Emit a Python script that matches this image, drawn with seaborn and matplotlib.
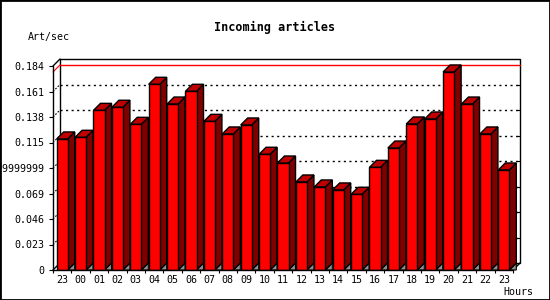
import numpy as np
import pandas as pd
import matplotlib
matplotlib.use("Agg")
import matplotlib.pyplot as plt
import seaborn as sns
from matplotlib.patches import Polygon, Rectangle

# ---- data ----
hours = ["23", "00", "01", "02", "03", "04", "05", "06", "07", "08", "09", "10",
         "11", "12", "13", "14", "15", "16", "17", "18", "19", "20", "21", "22", "23"]
rate = [0.1182, 0.1197, 0.1440, 0.1468, 0.1314, 0.1675, 0.1497, 0.1612, 0.1341,
        0.1227, 0.1308, 0.1044, 0.0965, 0.0794, 0.0749, 0.0722, 0.0683, 0.0926,
        0.1100, 0.1317, 0.1362, 0.1786, 0.1497, 0.1227, 0.0902]
yticks = [0, 0.023, 0.046, 0.069, 0.09199999999, 0.115, 0.138, 0.161, 0.184]
ytick_labels = ["0", "0.023", "0.046", "0.069", "0.09199999999",
                "0.115", "0.138", "0.161", "0.184"]

sns.set_theme(style="white")
plt.rcParams["font.family"] = ["DejaVu Sans Mono"]

W, H = 550, 300
fig = plt.figure(figsize=(W / 100, H / 100), dpi=100)
fig.patch.set_facecolor("white")
ax = fig.add_axes([53 / W, 30 / H, 460 / W, 204 / H])
ax.set_facecolor("none")

df = pd.DataFrame({"slot": list(range(len(rate))), "rate": rate})
sns.barplot(data=df, x="slot", y="rate", color="#FF0000", saturation=1,
            width=0.6, edgecolor="black", linewidth=1.0, ax=ax, zorder=3)

n = len(rate)
ymax = yticks[-1]
ax.set_xlim(-0.5, n - 0.5)
ax.set_ylim(0, ymax)

# depth offsets (7 px) expressed in data units
depth_px = 7
dx = depth_px * n / 460.0
dy = depth_px * ymax / 204.0

# back plane
ax.add_patch(Rectangle((-0.5 + dx, dy), n, ymax, facecolor="white",
                       edgecolor="black", lw=1.0, zorder=0.5, clip_on=False))
# dotted grid on back plane
for t in yticks[1:-1]:
    ax.plot([-0.5 + dx, n - 0.5 + dx], [t + dy, t + dy], color="black", lw=1.0,
            ls=(0, (1.5, 2.5)), zorder=1, clip_on=False)
    ax.plot([-0.5, -0.5 + dx], [t, t + dy], color="black", lw=0.8,
            ls=(0, (1.5, 1.5)), zorder=1, clip_on=False)
    # small inward ticks on back right edge
    ax.plot([n - 0.5 + dx - 0.15, n - 0.5 + dx], [t + dy, t + dy], color="black",
            lw=0.8, zorder=1, clip_on=False)

# red max line
mx = max(rate)
ax.plot([-0.5 + dx, n - 0.5 + dx], [mx + dy, mx + dy], color="#FF0000", lw=1.0,
        zorder=1.2, clip_on=False)
ax.plot([-0.5, -0.5 + dx], [mx, mx + dy], color="#FF0000", lw=0.8,
        zorder=1.2, clip_on=False)

# corner diagonals
for (xx, yy) in [(-0.5, ymax), (-0.5, 0), (n - 0.5, 0)]:
    ax.plot([xx, xx + dx], [yy, yy + dy], color="black", lw=1.0, zorder=1.5,
            clip_on=False)

# 3D faces of bars
for p in list(ax.patches):
    if not isinstance(p, Rectangle) or p.get_height() <= 0 or p.get_width() >= n:
        continue
    x0 = p.get_x()
    x1 = x0 + p.get_width()
    h = p.get_height()
    ax.add_patch(Polygon([(x1, 0), (x1 + dx, dy), (x1 + dx, 0)], closed=True,
                         facecolor="#909090", edgecolor="black", lw=0.8,
                         zorder=2, clip_on=False))
    ax.add_patch(Polygon([(x1, 0), (x1, h), (x1 + dx, h + dy), (x1 + dx, dy)],
                         closed=True, facecolor="#800000", edgecolor="black",
                         lw=1.0, zorder=2.5, clip_on=False))
    ax.add_patch(Polygon([(x0, h), (x0 + dx, h + dy), (x1 + dx, h + dy), (x1, h)],
                         closed=True, facecolor="#C00000", edgecolor="black",
                         lw=1.0, zorder=2.5, clip_on=False))

# spines
for s in ["top", "right"]:
    ax.spines[s].set_visible(False)
for s in ["left", "bottom"]:
    ax.spines[s].set_color("black")
    ax.spines[s].set_linewidth(1.0)
    ax.spines[s].set_zorder(4)

# ticks
ax.set_yticks(yticks)
ax.set_yticklabels(ytick_labels)
ax.tick_params(axis="y", length=3, width=0.8, pad=3, labelsize=7.2, colors="black",
               left=True)
ax.set_xticks(np.arange(-0.5, n, 1.0))
ax.set_xticklabels([""] * (n + 1))
ax.tick_params(axis="x", which="major", length=2.5, width=0.8, bottom=True,
               colors="black")
ax.set_xticks(np.arange(n), minor=True)
ax.set_xticklabels(hours, minor=True)
ax.tick_params(axis="x", which="minor", length=0, pad=3.5, labelsize=7.2,
               colors="black")
ax.set_xlabel("")
ax.set_ylabel("")

# texts
fig.text(0.5, 1 - 27 / H, "Incoming articles", ha="center", va="center",
         fontsize=8.5, fontweight="bold", color="black")
fig.text(28 / W, 1 - 37 / H, "Art/sec", ha="left", va="center", fontsize=7.2,
         color="black")
fig.text(533 / W, 1 - 292 / H, "Hours", ha="right", va="center", fontsize=7.2,
         color="black")

# outer frame
fig.add_artist(Rectangle((0, 0), 1, 1, transform=fig.transFigure, fill=False,
                         edgecolor="black", lw=2.0))

fig.savefig("out.png", dpi=100)
